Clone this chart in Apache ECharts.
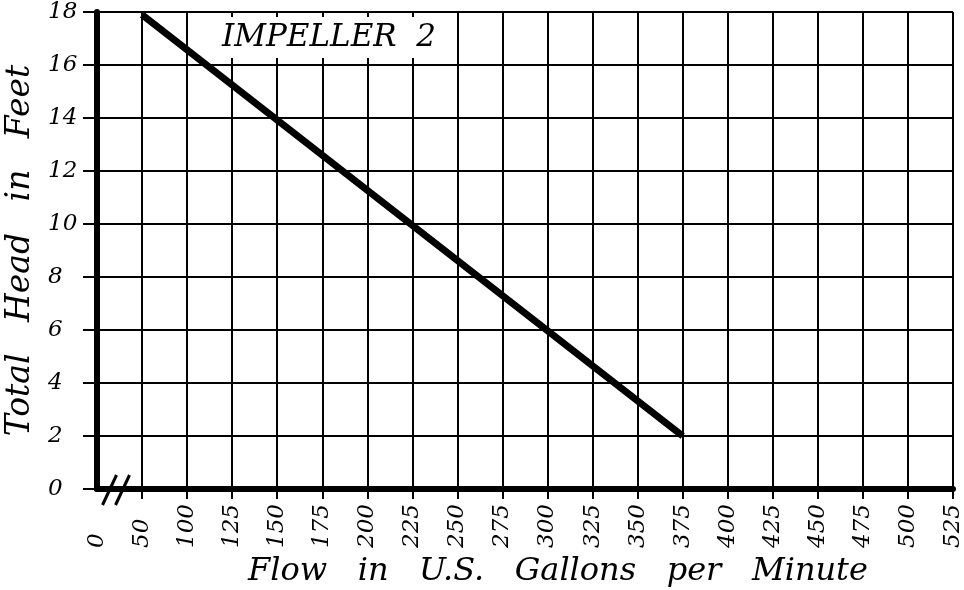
<!DOCTYPE html>
<html>
<head>
<meta charset="utf-8">
<title>Impeller 2</title>
<script src="https://cdn.jsdelivr.net/npm/echarts@6/dist/echarts.min.js"></script>
<style>
html, body { margin: 0; padding: 0; background: #fff; }
#main { width: 964px; height: 590px; }
</style>
</head>
<body>
<div id="main"></div>
<script>
// x axis is broken between 0 and 50, so it is a category axis
const flowLabels = ['0', '50', '100', '125', '150', '175', '200', '225', '250', '275',
    '300', '325', '350', '375', '400', '425', '450', '475', '500', '525']
const flowPoints = [50, 375]
const headValues = [17.9, 2.0]
const headMin = 0
const headMax = 18
const headStep = 2

const font = 'DejaVu Serif'
const chart = echarts.init(document.getElementById('main'))

const lineData = flowPoints.map((f, i) => [flowLabels.indexOf(String(f)), headValues[i]])

chart.setOption({
    backgroundColor: '#fff',
    animation: false,
    title: {
        text: 'IMPELLER  2',
        left: 215,
        top: 17,
        padding: [5, 7, 5, 7],
        backgroundColor: '#fff',
        textStyle: { fontFamily: font, fontStyle: 'italic', fontWeight: 'normal', fontSize: 31, color: '#000' }
    },
    grid: { left: 97, right: 11, top: 12, bottom: 101, outerBoundsMode: 'none', containLabel: false },
    xAxis: {
        type: 'category',
        data: flowLabels,
        boundaryGap: false,
        name: 'Flow   in   U.S.   Gallons   per   Minute',
        nameLocation: 'middle',
        nameGap: 66,
        nameTextStyle: { fontFamily: font, fontStyle: 'italic', fontSize: 32, color: '#000', padding: [0, 0, 0, 66] },
        axisLine: { lineStyle: { color: '#000', width: 6 } },
        axisTick: { length: 10, lineStyle: { color: '#000', width: 2 }, interval: (i) => i !== 0 },
        splitLine: { show: true, lineStyle: { color: '#000', width: 2 } },
        axisLabel: {
            rotate: 90, align: 'left', margin: 59, interval: 0,
            fontFamily: font, fontStyle: 'italic', fontSize: 23, color: '#000'
        }
    },
    yAxis: {
        type: 'value',
        min: headMin,
        max: headMax,
        interval: headStep,
        name: 'Total   Head   in   Feet',
        nameLocation: 'middle',
        nameGap: 59,
        nameTextStyle: { fontFamily: font, fontStyle: 'italic', fontSize: 33, color: '#000' },
        axisLine: { show: true, lineStyle: { color: '#000', width: 6 } },
        axisTick: { show: true, length: 14, lineStyle: { color: '#000', width: 2 } },
        splitLine: { lineStyle: { color: '#000', width: 2 } },
        axisLabel: {
            align: 'left', margin: 49,
            fontFamily: font, fontStyle: 'italic', fontSize: 23, color: '#000'
        }
    },
    series: [{
        type: 'line',
        data: lineData,
        symbol: 'none',
        lineStyle: { color: '#000', width: 7 },
        z: 5
    }]
})

// axis break marks "//" between 0 and 50
const p0 = chart.convertToPixel({ xAxisIndex: 0, yAxisIndex: 0 }, [0, 0])
const p1 = chart.convertToPixel({ xAxisIndex: 0, yAxisIndex: 0 }, [1, 0])
const mid = (p0[0] + p1[0]) / 2
const brk = (dx) => ({
    type: 'line',
    shape: { x1: mid + dx + 7, y1: p0[1] - 14, x2: mid + dx - 7, y2: p0[1] + 16 },
    style: { stroke: '#000', lineWidth: 3 },
    z: 10
})
chart.setOption({ graphic: [brk(-10), brk(3)] })
</script>
</body>
</html>
